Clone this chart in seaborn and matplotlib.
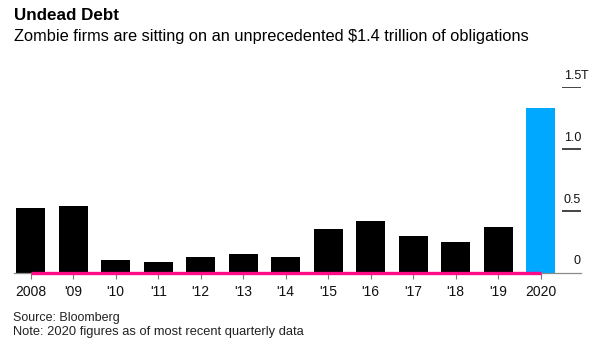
import matplotlib
matplotlib.use("Agg")
import matplotlib.pyplot as plt
import seaborn as sns
import pandas as pd

# ---- data ----
years = ["2008", "'09", "'10", "'11", "'12", "'13", "'14", "'15", "'16", "'17", "'18", "'19", "2020"]
debt_trillions = [0.52, 0.54, 0.10, 0.087, 0.13, 0.15, 0.13, 0.35, 0.415, 0.30, 0.25, 0.37, 1.33]
ytick_values = [0, 0.5, 1.0, 1.5]
ytick_labels = ["0", "0.5", "1.0", "1.5"]
unit_suffix = "T"

title = "Undead Debt"
subtitle = "Zombie firms are sitting on an unprecedented $1.4 trillion of obligations"
source = "Source: Bloomberg"
note = "Note: 2020 figures as of most recent quarterly data"

# ---- style ----
sns.set_theme(style="white")
plt.rcParams["font.family"] = ["Liberation Sans", "DejaVu Sans"]

BLACK = "#000000"
BLUE = "#00A9FF"
PINK = "#FF0A87"
GREY = "#8a8a8a"

W, H = 605, 341
fig = plt.figure(figsize=(W / 100, H / 100), dpi=100)

# axes placement in pixels
ax_left, ax_right = 14, 581
ax_bottom_px, ax_top_px = 272.7, 87.3
ax = fig.add_axes([ax_left / W, (H - ax_bottom_px) / H,
                   (ax_right - ax_left) / W, (ax_bottom_px - ax_top_px) / H])

df = pd.DataFrame({"year": years, "value": debt_trillions})
colors = [BLACK] * (len(years) - 1) + [BLUE]
sns.barplot(data=df, x="year", y="value", hue="year", palette=colors,
            width=0.68, saturation=1, legend=False, ax=ax, linewidth=0)

ax.set_xlim(-0.393, 12.948)
ax.set_ylim(0, 1.5)
ax.set_xlabel("")
ax.set_ylabel("")
ax.set_yticks([])

for s in ["top", "right", "left"]:
    ax.spines[s].set_visible(False)
ax.spines["bottom"].set_color(GREY)
ax.spines["bottom"].set_linewidth(0.9)

ax.tick_params(axis="x", bottom=True, length=4.5, width=0.8, color="#777777",
               pad=4.5, labelsize=10, labelcolor="#111111")

# pink zero line from first to last bar center
ax.plot([0, len(years) - 1], [0, 0], color=PINK, lw=2.4,
        solid_capstyle="butt", zorder=5, clip_on=False)

# right-side tick lines + labels
ytr = ax.get_yaxis_transform()
for v, lbl in zip(ytick_values, ytick_labels):
    if v != 0:
        ax.hlines(v, 0.966, 1.0, transform=ytr, color="#111111", lw=1.1)
    ax.annotate(lbl, xy=(1.0, v), xycoords=ytr, xytext=(0, 6),
                textcoords="offset points", ha="right", va="baseline",
                fontsize=9, color="#111111", annotation_clip=False)
    if v == ytick_values[-1]:
        ax.annotate(unit_suffix, xy=(1.0, v), xycoords=ytr, xytext=(0, 6),
                    textcoords="offset points", ha="left", va="baseline",
                    fontsize=9, color="#111111", annotation_clip=False)

# header / footer texts
x0 = 13.5 / W
t_title = fig.text(x0, 1 - 19.8 / H, title, fontsize=12, fontweight="bold",
                   va="baseline", ha="left", color="#000000")
t_sub = fig.text(x0, 1 - 41.0 / H, subtitle, fontsize=10.5,
                 va="baseline", ha="left", color="#000000")
t_src = fig.text(13 / W, 1 - 321.5 / H, source, fontsize=8.5,
                 va="baseline", ha="left", color="#222222")
t_note = fig.text(13 / W, 1 - 335.5 / H, note, fontsize=8.5,
                  va="baseline", ha="left", color="#222222")

# fit text widths to the reference
fig.canvas.draw()
r = fig.canvas.get_renderer()
for t, target in [(t_title, 105), (t_sub, 520), (t_src, 107), (t_note, 289)]:
    w = t.get_window_extent(renderer=r).width
    t.set_fontsize(t.get_fontsize() * target / w)

fig.savefig("out.png", dpi=100)
